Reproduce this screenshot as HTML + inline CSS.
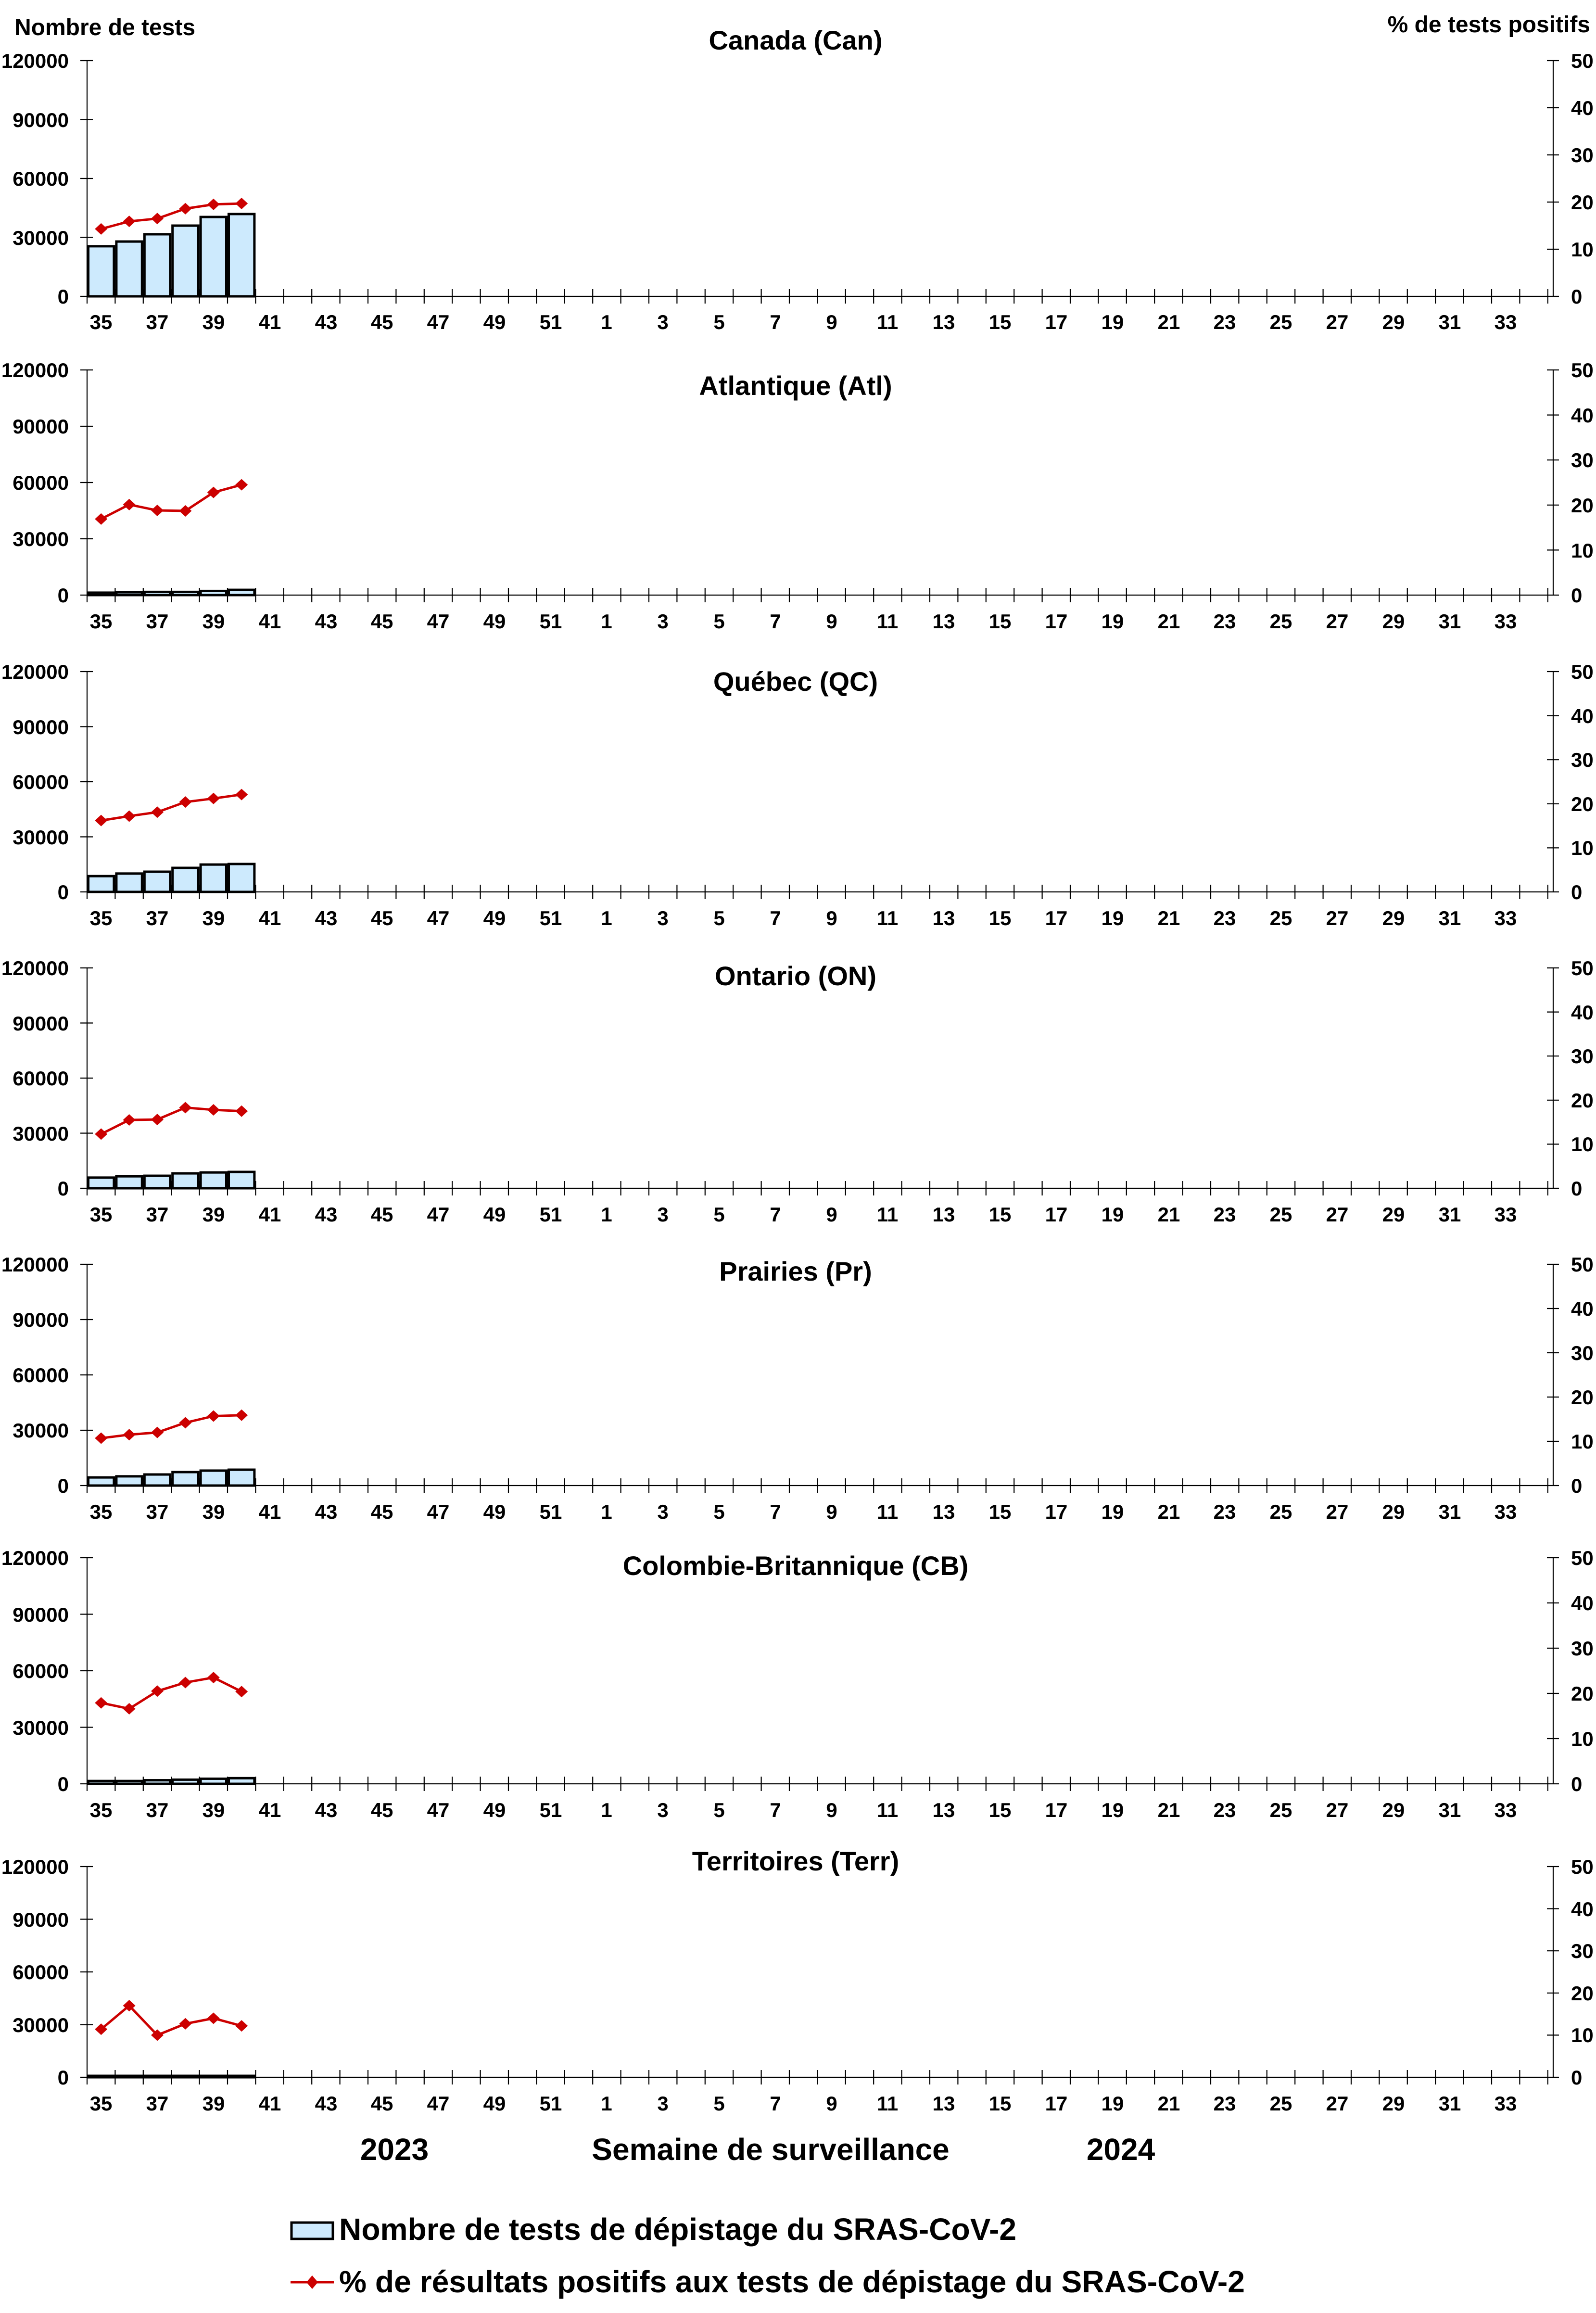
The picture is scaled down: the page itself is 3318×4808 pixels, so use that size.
<!DOCTYPE html>
<html><head><meta charset="utf-8"><style>
html,body{margin:0;padding:0;background:#fff;}
svg{display:block;}
text{font-family:"Liberation Sans",Arial,sans-serif;font-weight:bold;fill:#000;}
.yl{font-size:42px;}
.xl{font-size:42px;}
.tt{font-size:56px;}
.big{font-size:64px;}
</style></head><body>
<svg id="s" width="3318" height="4808" viewBox="0 0 3318 4808" xmlns="http://www.w3.org/2000/svg">
<rect width="3318" height="4808" fill="#fff"/>
<g id="shapes"></g>

<text x="30" y="73" style="font-size:48px">Nombre de tests</text>
<text x="3306" y="67" text-anchor="end" style="font-size:48px">% de tests positifs</text>

<!-- Titles -->
<text class="tt" x="1654" y="103" text-anchor="middle">Canada (Can)</text>
<text class="tt" x="1654" y="821" text-anchor="middle">Atlantique (Atl)</text>
<text class="tt" x="1654" y="1436" text-anchor="middle">Québec (QC)</text>
<text class="tt" x="1654" y="2048" text-anchor="middle">Ontario (ON)</text>
<text class="tt" x="1654" y="2662" text-anchor="middle">Prairies (Pr)</text>
<text class="tt" x="1654" y="3274" text-anchor="middle">Colombie-Britannique (CB)</text>
<text class="tt" x="1654" y="3888" text-anchor="middle">Territoires (Terr)</text>

<!-- Left y labels -->
<text class="yl" text-anchor="end"><tspan x="143" y="141">120000</tspan><tspan x="143" y="264">90000</tspan><tspan x="143" y="386">60000</tspan><tspan x="143" y="509">30000</tspan><tspan x="143" y="631">0</tspan></text>
<text class="yl" text-anchor="end"><tspan x="143" y="784">120000</tspan><tspan x="143" y="901">90000</tspan><tspan x="143" y="1018">60000</tspan><tspan x="143" y="1135">30000</tspan><tspan x="143" y="1252">0</tspan></text>
<text class="yl" text-anchor="end"><tspan x="143" y="1411">120000</tspan><tspan x="143" y="1526">90000</tspan><tspan x="143" y="1640">60000</tspan><tspan x="143" y="1755">30000</tspan><tspan x="143" y="1869">0</tspan></text>
<text class="yl" text-anchor="end"><tspan x="143" y="2027">120000</tspan><tspan x="143" y="2142">90000</tspan><tspan x="143" y="2256">60000</tspan><tspan x="143" y="2371">30000</tspan><tspan x="143" y="2485">0</tspan></text>
<text class="yl" text-anchor="end"><tspan x="143" y="2643">120000</tspan><tspan x="143" y="2758">90000</tspan><tspan x="143" y="2873">60000</tspan><tspan x="143" y="2988">30000</tspan><tspan x="143" y="3103">0</tspan></text>
<text class="yl" text-anchor="end"><tspan x="143" y="3253">120000</tspan><tspan x="143" y="3371">90000</tspan><tspan x="143" y="3488">60000</tspan><tspan x="143" y="3606">30000</tspan><tspan x="143" y="3723">0</tspan></text>
<text class="yl" text-anchor="end"><tspan x="143" y="3895">120000</tspan><tspan x="143" y="4005">90000</tspan><tspan x="143" y="4114">60000</tspan><tspan x="143" y="4224">30000</tspan><tspan x="143" y="4333">0</tspan></text>

<!-- Right y labels -->
<text class="yl"><tspan x="3266" y="141">50</tspan><tspan x="3266" y="239">40</tspan><tspan x="3266" y="337">30</tspan><tspan x="3266" y="435">20</tspan><tspan x="3266" y="533">10</tspan><tspan x="3266" y="631">0</tspan></text>
<text class="yl"><tspan x="3266" y="784">50</tspan><tspan x="3266" y="878">40</tspan><tspan x="3266" y="971">30</tspan><tspan x="3266" y="1065">20</tspan><tspan x="3266" y="1159">10</tspan><tspan x="3266" y="1252">0</tspan></text>
<text class="yl"><tspan x="3266" y="1411">50</tspan><tspan x="3266" y="1503">40</tspan><tspan x="3266" y="1594">30</tspan><tspan x="3266" y="1686">20</tspan><tspan x="3266" y="1777">10</tspan><tspan x="3266" y="1869">0</tspan></text>
<text class="yl"><tspan x="3266" y="2027">50</tspan><tspan x="3266" y="2119">40</tspan><tspan x="3266" y="2210">30</tspan><tspan x="3266" y="2302">20</tspan><tspan x="3266" y="2393">10</tspan><tspan x="3266" y="2485">0</tspan></text>
<text class="yl"><tspan x="3266" y="2643">50</tspan><tspan x="3266" y="2735">40</tspan><tspan x="3266" y="2827">30</tspan><tspan x="3266" y="2919">20</tspan><tspan x="3266" y="3011">10</tspan><tspan x="3266" y="3103">0</tspan></text>
<text class="yl"><tspan x="3266" y="3253">50</tspan><tspan x="3266" y="3347">40</tspan><tspan x="3266" y="3441">30</tspan><tspan x="3266" y="3535">20</tspan><tspan x="3266" y="3629">10</tspan><tspan x="3266" y="3723">0</tspan></text>
<text class="yl"><tspan x="3266" y="3895">50</tspan><tspan x="3266" y="3983">40</tspan><tspan x="3266" y="4070">30</tspan><tspan x="3266" y="4158">20</tspan><tspan x="3266" y="4245">10</tspan><tspan x="3266" y="4333">0</tspan></text>

<!-- X labels -->
<text class="xl" text-anchor="middle" y="684"><tspan x="210">35</tspan><tspan x="327">37</tspan><tspan x="444">39</tspan><tspan x="561">41</tspan><tspan x="678">43</tspan><tspan x="794">45</tspan><tspan x="911">47</tspan><tspan x="1028">49</tspan><tspan x="1145">51</tspan><tspan x="1261">1</tspan><tspan x="1378">3</tspan><tspan x="1495">5</tspan><tspan x="1612">7</tspan><tspan x="1729">9</tspan><tspan x="1845">11</tspan><tspan x="1962">13</tspan><tspan x="2079">15</tspan><tspan x="2196">17</tspan><tspan x="2313">19</tspan><tspan x="2430">21</tspan><tspan x="2546">23</tspan><tspan x="2663">25</tspan><tspan x="2780">27</tspan><tspan x="2897">29</tspan><tspan x="3014">31</tspan><tspan x="3130">33</tspan></text>
<text class="xl" text-anchor="middle" y="1306"><tspan x="210">35</tspan><tspan x="327">37</tspan><tspan x="444">39</tspan><tspan x="561">41</tspan><tspan x="678">43</tspan><tspan x="794">45</tspan><tspan x="911">47</tspan><tspan x="1028">49</tspan><tspan x="1145">51</tspan><tspan x="1261">1</tspan><tspan x="1378">3</tspan><tspan x="1495">5</tspan><tspan x="1612">7</tspan><tspan x="1729">9</tspan><tspan x="1845">11</tspan><tspan x="1962">13</tspan><tspan x="2079">15</tspan><tspan x="2196">17</tspan><tspan x="2313">19</tspan><tspan x="2430">21</tspan><tspan x="2546">23</tspan><tspan x="2663">25</tspan><tspan x="2780">27</tspan><tspan x="2897">29</tspan><tspan x="3014">31</tspan><tspan x="3130">33</tspan></text>
<text class="xl" text-anchor="middle" y="1923"><tspan x="210">35</tspan><tspan x="327">37</tspan><tspan x="444">39</tspan><tspan x="561">41</tspan><tspan x="678">43</tspan><tspan x="794">45</tspan><tspan x="911">47</tspan><tspan x="1028">49</tspan><tspan x="1145">51</tspan><tspan x="1261">1</tspan><tspan x="1378">3</tspan><tspan x="1495">5</tspan><tspan x="1612">7</tspan><tspan x="1729">9</tspan><tspan x="1845">11</tspan><tspan x="1962">13</tspan><tspan x="2079">15</tspan><tspan x="2196">17</tspan><tspan x="2313">19</tspan><tspan x="2430">21</tspan><tspan x="2546">23</tspan><tspan x="2663">25</tspan><tspan x="2780">27</tspan><tspan x="2897">29</tspan><tspan x="3014">31</tspan><tspan x="3130">33</tspan></text>
<text class="xl" text-anchor="middle" y="2539"><tspan x="210">35</tspan><tspan x="327">37</tspan><tspan x="444">39</tspan><tspan x="561">41</tspan><tspan x="678">43</tspan><tspan x="794">45</tspan><tspan x="911">47</tspan><tspan x="1028">49</tspan><tspan x="1145">51</tspan><tspan x="1261">1</tspan><tspan x="1378">3</tspan><tspan x="1495">5</tspan><tspan x="1612">7</tspan><tspan x="1729">9</tspan><tspan x="1845">11</tspan><tspan x="1962">13</tspan><tspan x="2079">15</tspan><tspan x="2196">17</tspan><tspan x="2313">19</tspan><tspan x="2430">21</tspan><tspan x="2546">23</tspan><tspan x="2663">25</tspan><tspan x="2780">27</tspan><tspan x="2897">29</tspan><tspan x="3014">31</tspan><tspan x="3130">33</tspan></text>
<text class="xl" text-anchor="middle" y="3157"><tspan x="210">35</tspan><tspan x="327">37</tspan><tspan x="444">39</tspan><tspan x="561">41</tspan><tspan x="678">43</tspan><tspan x="794">45</tspan><tspan x="911">47</tspan><tspan x="1028">49</tspan><tspan x="1145">51</tspan><tspan x="1261">1</tspan><tspan x="1378">3</tspan><tspan x="1495">5</tspan><tspan x="1612">7</tspan><tspan x="1729">9</tspan><tspan x="1845">11</tspan><tspan x="1962">13</tspan><tspan x="2079">15</tspan><tspan x="2196">17</tspan><tspan x="2313">19</tspan><tspan x="2430">21</tspan><tspan x="2546">23</tspan><tspan x="2663">25</tspan><tspan x="2780">27</tspan><tspan x="2897">29</tspan><tspan x="3014">31</tspan><tspan x="3130">33</tspan></text>
<text class="xl" text-anchor="middle" y="3777"><tspan x="210">35</tspan><tspan x="327">37</tspan><tspan x="444">39</tspan><tspan x="561">41</tspan><tspan x="678">43</tspan><tspan x="794">45</tspan><tspan x="911">47</tspan><tspan x="1028">49</tspan><tspan x="1145">51</tspan><tspan x="1261">1</tspan><tspan x="1378">3</tspan><tspan x="1495">5</tspan><tspan x="1612">7</tspan><tspan x="1729">9</tspan><tspan x="1845">11</tspan><tspan x="1962">13</tspan><tspan x="2079">15</tspan><tspan x="2196">17</tspan><tspan x="2313">19</tspan><tspan x="2430">21</tspan><tspan x="2546">23</tspan><tspan x="2663">25</tspan><tspan x="2780">27</tspan><tspan x="2897">29</tspan><tspan x="3014">31</tspan><tspan x="3130">33</tspan></text>
<text class="xl" text-anchor="middle" y="4387"><tspan x="210">35</tspan><tspan x="327">37</tspan><tspan x="444">39</tspan><tspan x="561">41</tspan><tspan x="678">43</tspan><tspan x="794">45</tspan><tspan x="911">47</tspan><tspan x="1028">49</tspan><tspan x="1145">51</tspan><tspan x="1261">1</tspan><tspan x="1378">3</tspan><tspan x="1495">5</tspan><tspan x="1612">7</tspan><tspan x="1729">9</tspan><tspan x="1845">11</tspan><tspan x="1962">13</tspan><tspan x="2079">15</tspan><tspan x="2196">17</tspan><tspan x="2313">19</tspan><tspan x="2430">21</tspan><tspan x="2546">23</tspan><tspan x="2663">25</tspan><tspan x="2780">27</tspan><tspan x="2897">29</tspan><tspan x="3014">31</tspan><tspan x="3130">33</tspan></text>

<!-- Bottom labels -->
<text class="big" x="820" y="4490" text-anchor="middle">2023</text>
<text class="big" x="1602" y="4490" text-anchor="middle">Semaine de surveillance</text>
<text class="big" x="2330" y="4490" text-anchor="middle">2024</text>

<!-- Legend -->
<rect x="606" y="4620" width="86" height="34" fill="#cdeafd" stroke="#000" stroke-width="5"/>
<text class="big" x="705" y="4656" textLength="1408" lengthAdjust="spacingAndGlyphs">Nombre de tests de dépistage du SRAS-CoV-2</text>
<line x1="604" y1="4744" x2="694" y2="4744" stroke="#cc0000" stroke-width="5"/>
<path d="M649 4730 L661 4744 L649 4758 L637 4744 Z" fill="#cc0000"/>
<text class="big" x="705" y="4765" textLength="1883" lengthAdjust="spacingAndGlyphs">% de résultats positifs aux tests de dépistage du SRAS-CoV-2</text>
</svg>
<script>
(function(){
var NS="http://www.w3.org/2000/svg",g=document.getElementById("shapes");
function el(t,a){var e=document.createElementNS(NS,t);for(var k in a)e.setAttribute(k,a[k]);g.appendChild(e);return e;}
var P=[
[126,616,[25500,27900,31600,36000,40400,41900],[14.3,15.9,16.5,18.6,19.5,19.7]],
[769,1237,[1300,1500,1700,1700,2200,2800],[16.9,20.1,18.8,18.7,22.8,24.5]],
[1396,1854,[8600,10000,11000,13100,14900,15200],[16.2,17.2,18.1,20.4,21.2,22.1]],
[2012,2470,[5800,6500,6800,8100,8600,8900],[12.3,15.5,15.6,18.3,17.8,17.5]],
[2628,3088,[4400,5000,6000,7300,8100,8600],[10.7,11.5,12.0,14.2,15.7,15.9]],
[3238,3708,[1500,1500,1900,2200,2700,3000],[17.9,16.6,20.5,22.4,23.5,20.4]],
[3880,4318,[100,100,100,100,100,100],[11.4,17.0,10.0,12.7,14.0,12.2]]
];
var L=181,R=3229,W=58.4;
P.forEach(function(p){
var t=p[0],z=p[1],h=z-t,i,d="";
d+="M"+L+" "+t+"V"+z+"H"+R+"V"+t;
for(i=0;i<5;i++){var y=t+h*i/4;d+="M167 "+y+"H193";}
for(i=0;i<6;i++){var y2=t+h*i/5;d+="M3216 "+y2+"H3241";}
for(i=0;i<=52;i++){var x=L+W*i;d+="M"+x+" "+(z-15)+"V"+(z+15);}
el("path",{d:d,stroke:"#000","stroke-width":2.2,fill:"none"});
for(i=0;i<6;i++){var v=p[2][i],bh=Math.max(v/120000*h,3),bx=L+W*i+2.5;
el("rect",{x:bx,y:z-bh,width:W-5,height:bh,fill:"#cdeafd",stroke:"#000","stroke-width":5});}
var pts=[];for(i=0;i<6;i++){pts.push([L+W*(i+0.5),z-p[3][i]/50*h]);}
el("polyline",{points:pts.map(function(q){return q.join(",")}).join(" "),fill:"none",stroke:"#cc0000","stroke-width":5});
pts.forEach(function(q){el("path",{d:"M"+q[0]+" "+(q[1]-12)+"L"+(q[0]+13)+" "+q[1]+"L"+q[0]+" "+(q[1]+12)+"L"+(q[0]-13)+" "+q[1]+"Z",fill:"#cc0000"});});
});
})();
</script>
</body></html>
